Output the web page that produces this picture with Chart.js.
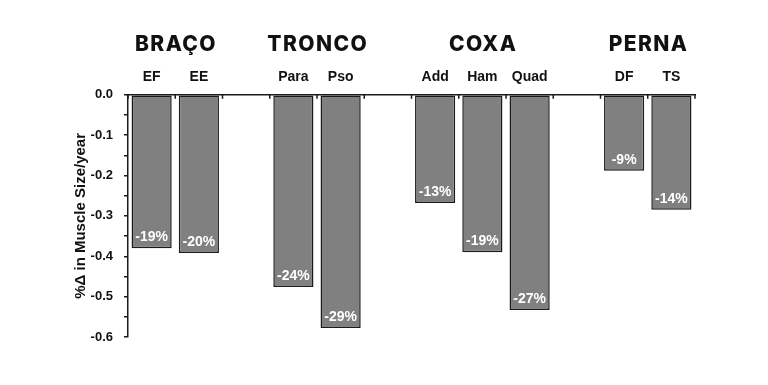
<!DOCTYPE html>
<html>
<head>
<meta charset="utf-8">
<script src="https://cdn.jsdelivr.net/npm/chart.js@4.4.0/dist/chart.umd.min.js"></script>
<style>
    html, body { margin: 0; padding: 0; background: #ffffff; }
    #wrap { width: 768px; height: 385px; position: relative; }
</style>
</head>
<body>
<div id="wrap"><canvas id="muscleChart"></canvas></div>
<script>
// categories ('' = empty gap slot between body regions)
const categories = ['EF', 'EE', '', 'Para', 'Pso', '', 'Add', 'Ham', 'Quad', '', 'DF', 'TS'];
const changePerYear = [-0.38, -0.392, null, -0.476, -0.578, null, -0.268, -0.39, -0.533, null, -0.188, -0.285];
const pctLabels = ['-19%', '-20%', '', '-24%', '-29%', '', '-13%', '-19%', '-27%', '', '-9%', '-14%'];

const groupNames = ['BRAÇO', 'TRONCO', 'COXA', 'PERNA'];
const groupFirst = [0, 3, 6, 10];
const groupLast = [1, 4, 8, 11];

const axisColor = '#1a1a1a';

// white % labels inside the bars + group titles + small x ticks
const extrasPlugin = {
    id: 'extras',
    afterDatasetsDraw(chart) {
        const ctx = chart.ctx;
        const xScale = chart.scales.x;
        const meta = chart.getDatasetMeta(0);
        ctx.save();
        ctx.fillStyle = '#ffffff';
        ctx.font = 'bold 14px "Liberation Sans", Arial, sans-serif';
        ctx.textAlign = 'center';
        ctx.textBaseline = 'middle';
        meta.data.forEach((bar, i) => {
            if (changePerYear[i] == null) return;
            ctx.fillText(pctLabels[i], bar.x, bar.y - 11);
        });

        // group titles
        ctx.fillStyle = '#111111';
        ctx.font = '800 21px Inter, "Open Sans", sans-serif';
        ctx.letterSpacing = '1.4px';
        for (let g = 0; g < groupNames.length; g++) {
            const cx = (xScale.getPixelForValue(groupFirst[g]) + xScale.getPixelForValue(groupLast[g])) / 2;
            ctx.fillText(groupNames[g], cx + 0.7, 45);
        }
        ctx.letterSpacing = '0px';

        // little tick marks hanging under the x axis line
        const slot = xScale.getPixelForValue(1) - xScale.getPixelForValue(0);
        const top = chart.chartArea.top;
        ctx.strokeStyle = axisColor;
        ctx.lineWidth = 1.5;
        for (let i = 0; i <= categories.length; i++) {
            const x = xScale.getPixelForValue(0) - slot / 2 + i * slot;
            ctx.beginPath();
            ctx.moveTo(x, top);
            ctx.lineTo(x, top + 4);
            ctx.stroke();
        }
        ctx.restore();
    }
};

new Chart(document.getElementById('muscleChart'), {
    type: 'bar',
    data: {
        labels: categories,
        datasets: [{
            data: changePerYear,
            backgroundColor: '#808080',
            borderColor: axisColor,
            borderWidth: 1.5,
            borderSkipped: false,
            barPercentage: 0.85,
            categoryPercentage: 1.0
        }]
    },
    options: {
        responsive: true,
        maintainAspectRatio: false,
        animation: false,
        layout: {
            padding: { top: 60, left: 70, right: 73, bottom: 48 }
        },
        plugins: {
            legend: { display: false },
            tooltip: { enabled: false }
        },
        scales: {
            x: {
                position: 'top',
                grid: { display: true, drawOnChartArea: false, drawTicks: false },
                border: { display: true, color: axisColor, width: 1.5 },
                ticks: {
                    autoSkip: false,
                    maxRotation: 0,
                    padding: 9,
                    color: '#111111',
                    font: { family: '"Liberation Sans", Arial, sans-serif', size: 14, weight: 'bold' }
                }
            },
            y: {
                min: -0.6,
                max: 0,
                afterFit: (scale) => { scale.width = 58; },
                grid: { drawOnChartArea: false, drawTicks: true, tickLength: 4, color: axisColor, lineWidth: 1.5 },
                border: { display: true, color: axisColor, width: 1.5 },
                ticks: {
                    stepSize: 0.05,
                    autoSkip: false,
                    padding: 11,
                    color: '#111111',
                    font: { family: '"Liberation Sans", Arial, sans-serif', size: 13, weight: 'bold' },
                    callback: (value, index) => index % 2 === 0 ? value.toFixed(1) : ''
                },
                title: {
                    display: true,
                    text: '%Δ in Muscle Size/year',
                    color: '#111111',
                    padding: 2,
                    font: { family: '"Liberation Sans", Arial, sans-serif', size: 15, weight: 'bold' }
                }
            }
        }
    },
    plugins: [extrasPlugin]
});
</script>
</body>
</html>
